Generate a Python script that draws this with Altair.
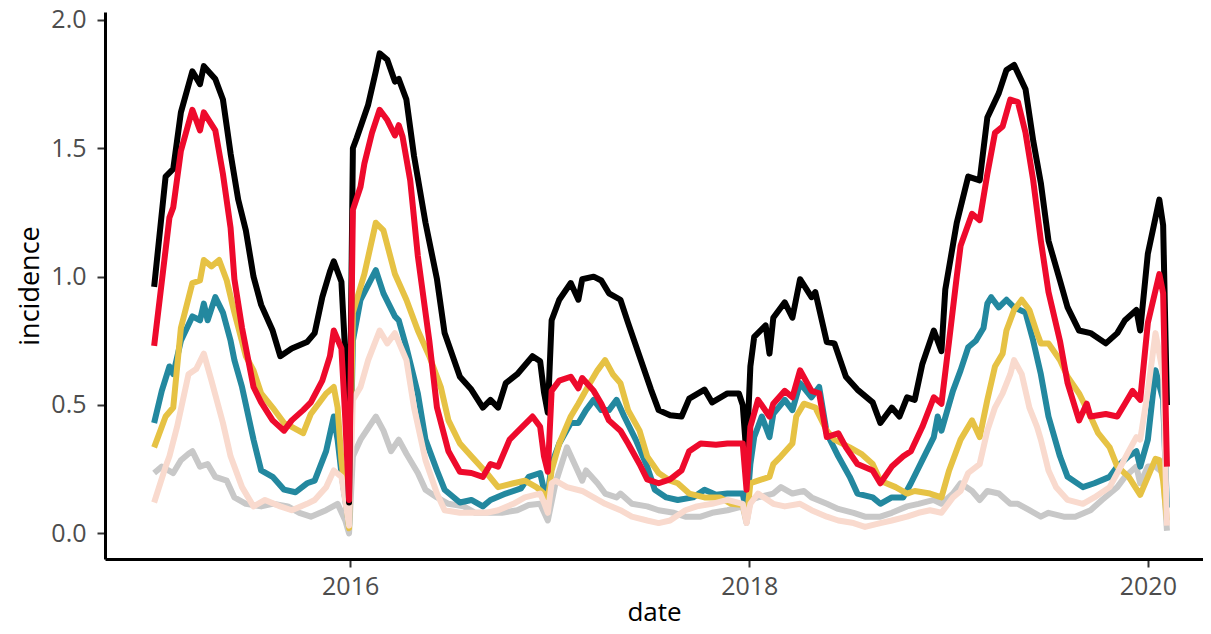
import altair as alt
import pandas as pd

START = "2015-01-07"  # week 0 of the weekly series

# (week index, incidence)
BLACK = [(0,0.96),(3,1.39),(5,1.42),(7,1.64),(10,1.80),(12,1.75),(13,1.82),(16,1.77),(18,1.69),(20,1.48),(22,1.30),(24,1.18),(26,1.00),(28,0.89),(31,0.79),(33,0.69),(36,0.72),(40,0.745),(42,0.78),(44,0.92),(46,1.02),(47,1.06),(49,0.98),(50,0.70),(51,0.12),(52,1.50),(53,1.54),(56,1.67),(58,1.80),(59,1.87),(61,1.845),(63,1.76),(64,1.77),(66,1.69),(68,1.47),(71,1.21),(74,0.99),(76,0.78),(80,0.61),(83,0.56),(86,0.49),(88,0.52),(90,0.49),(92,0.585),(95,0.62),(99,0.69),(101,0.67),(102,0.55),(103,0.47),(104,0.83),(106,0.91),(109,0.975),(111,0.91),(112,0.99),(115,1.0),(117,0.985),(119,0.935),(122,0.91),(124,0.82),(127,0.69),(130,0.56),(132,0.48),(135,0.46),(138,0.455),(140,0.525),(144,0.56),(146,0.51),(150,0.545),(153,0.545),(154,0.50),(155,0.30),(156,0.65),(157,0.765),(160,0.81),(161,0.70),(162,0.84),(165,0.90),(167,0.84),(169,0.99),(172,0.92),(173,0.94),(176,0.745),(178,0.74),(181,0.61),(184,0.56),(188,0.51),(190,0.43),(193,0.49),(195,0.455),(197,0.53),(199,0.52),(201,0.66),(204,0.79),(206,0.71),(207,0.95),(210,1.21),(213,1.39),(216,1.375),(218,1.62),(221,1.715),(223,1.805),(225,1.825),(228,1.73),(230,1.53),(232,1.365),(234,1.14),(237,0.985),(239,0.88),(242,0.79),(245,0.78),(249,0.74),(252,0.78),(254,0.83),(257,0.87),(258,0.79),(260,1.09),(263,1.30),(264,1.20),(265,0.50)]

RED = [(0,0.73),(4,1.23),(5,1.27),(7,1.49),(10,1.65),(12,1.57),(13,1.64),(16,1.57),(18,1.40),(20,1.19),(21,0.99),(23,0.80),(26,0.57),(28,0.51),(31,0.44),(34,0.40),(36,0.44),(39,0.48),(41,0.51),(44,0.595),(46,0.69),(47,0.79),(49,0.72),(50,0.45),(51,0.13),(52,1.26),(54,1.35),(55,1.44),(57,1.56),(59,1.65),(61,1.61),(63,1.55),(64,1.59),(65,1.545),(67,1.375),(69,1.08),(72,0.75),(74,0.49),(77,0.32),(80,0.24),(83,0.235),(86,0.22),(88,0.27),(90,0.26),(93,0.365),(95,0.395),(99,0.455),(101,0.415),(102,0.30),(103,0.24),(104,0.555),(106,0.595),(109,0.61),(111,0.565),(112,0.605),(115,0.555),(117,0.505),(119,0.44),(122,0.40),(124,0.35),(127,0.27),(129,0.21),(132,0.195),(135,0.21),(138,0.245),(140,0.32),(143,0.35),(147,0.345),(150,0.35),(154,0.35),(155,0.17),(156,0.415),(158,0.52),(161,0.455),(162,0.505),(165,0.555),(167,0.53),(169,0.635),(172,0.555),(174,0.545),(176,0.375),(179,0.39),(181,0.335),(184,0.27),(188,0.245),(190,0.195),(193,0.26),(196,0.30),(198,0.32),(201,0.415),(204,0.53),(206,0.505),(208,0.75),(210,1.0),(211,1.12),(214,1.245),(216,1.22),(218,1.40),(220,1.56),(222,1.585),(224,1.69),(226,1.68),(228,1.56),(230,1.375),(232,1.14),(234,0.94),(237,0.75),(239,0.585),(242,0.44),(244,0.505),(245,0.455),(249,0.465),(252,0.455),(254,0.505),(256,0.555),(258,0.52),(260,0.82),(263,1.01),(264,0.935),(265,0.26)]

YELLOW = [(0,0.335),(3,0.455),(5,0.49),(7,0.80),(10,0.975),(12,0.985),(13,1.065),(15,1.04),(17,1.065),(19,0.985),(21,0.86),(24,0.69),(26,0.635),(28,0.545),(31,0.49),(34,0.43),(36,0.415),(39,0.39),(41,0.465),(45,0.545),(47,0.57),(48,0.49),(49,0.285),(51,0.02),(52,0.86),(55,1.01),(58,1.21),(60,1.18),(63,1.01),(66,0.91),(69,0.79),(72,0.69),(75,0.57),(77,0.44),(80,0.35),(83,0.30),(87,0.235),(90,0.18),(94,0.195),(97,0.205),(100,0.18),(102,0.155),(103,0.13),(104,0.245),(106,0.35),(109,0.455),(111,0.505),(114,0.585),(116,0.635),(118,0.675),(120,0.62),(122,0.585),(124,0.48),(127,0.40),(129,0.30),(132,0.235),(135,0.205),(137,0.195),(140,0.155),(144,0.14),(148,0.14),(151,0.115),(154,0.11),(155,0.05),(156,0.195),(158,0.205),(161,0.22),(162,0.27),(164,0.30),(167,0.35),(168,0.455),(170,0.505),(173,0.49),(176,0.40),(178,0.365),(182,0.335),(185,0.31),(188,0.27),(190,0.205),(194,0.18),(197,0.155),(199,0.165),(203,0.155),(206,0.14),(208,0.245),(211,0.365),(214,0.44),(216,0.375),(218,0.52),(220,0.65),(222,0.70),(223,0.79),(225,0.87),(227,0.91),(229,0.87),(231,0.78),(232,0.74),(234,0.74),(237,0.675),(239,0.61),(242,0.545),(245,0.455),(247,0.39),(250,0.335),(252,0.26),(255,0.22),(258,0.15),(260,0.22),(262,0.29),(263,0.285),(264,0.205),(265,0.05)]

TEAL = [(0,0.43),(2,0.555),(4,0.65),(5,0.62),(7,0.75),(10,0.845),(12,0.83),(13,0.895),(14,0.83),(16,0.92),(18,0.86),(20,0.75),(21,0.675),(23,0.57),(26,0.365),(28,0.245),(31,0.22),(34,0.17),(37,0.16),(40,0.195),(42,0.205),(45,0.32),(47,0.455),(48,0.365),(49,0.235),(51,0.03),(52,0.75),(54,0.91),(58,1.025),(60,0.935),(63,0.845),(64,0.83),(66,0.725),(69,0.545),(71,0.365),(74,0.245),(76,0.17),(80,0.12),(83,0.13),(86,0.105),(88,0.13),(92,0.155),(96,0.175),(98,0.22),(101,0.235),(102,0.17),(103,0.15),(104,0.27),(106,0.35),(109,0.43),(111,0.43),(113,0.48),(115,0.52),(117,0.48),(119,0.48),(121,0.52),(123,0.455),(126,0.365),(129,0.26),(131,0.17),(134,0.14),(137,0.13),(141,0.14),(144,0.17),(147,0.15),(150,0.155),(154,0.155),(155,0.08),(156,0.27),(157,0.375),(159,0.455),(161,0.375),(162,0.465),(165,0.52),(167,0.48),(169,0.585),(172,0.53),(174,0.57),(176,0.39),(179,0.30),(182,0.22),(184,0.155),(188,0.14),(190,0.115),(193,0.14),(196,0.14),(198,0.195),(201,0.285),(204,0.375),(205,0.455),(206,0.40),(209,0.555),(211,0.635),(213,0.725),(215,0.75),(217,0.80),(218,0.895),(219,0.92),(221,0.88),(223,0.91),(225,0.88),(228,0.86),(230,0.75),(232,0.62),(234,0.455),(237,0.30),(239,0.22),(243,0.18),(246,0.195),(250,0.22),(252,0.26),(255,0.30),(257,0.32),(258,0.26),(260,0.365),(262,0.635),(264,0.52),(265,0.10)]

PEACH = [(0,0.12),(3,0.26),(4,0.30),(6,0.415),(9,0.62),(11,0.64),(13,0.70),(15,0.595),(18,0.43),(20,0.30),(23,0.18),(26,0.105),(29,0.13),(33,0.105),(36,0.09),(40,0.115),(42,0.13),(45,0.18),(47,0.245),(49,0.22),(51,0.03),(52,0.52),(54,0.57),(56,0.675),(59,0.79),(61,0.74),(63,0.78),(66,0.675),(68,0.49),(71,0.285),(74,0.155),(76,0.09),(80,0.08),(83,0.08),(87,0.08),(90,0.09),(94,0.115),(97,0.14),(101,0.155),(102,0.12),(103,0.08),(104,0.195),(105,0.205),(108,0.18),(112,0.165),(115,0.14),(118,0.115),(122,0.09),(125,0.065),(129,0.05),(132,0.04),(135,0.05),(139,0.09),(142,0.105),(146,0.115),(150,0.13),(154,0.115),(155,0.04),(156,0.115),(158,0.155),(162,0.115),(165,0.105),(169,0.115),(172,0.09),(176,0.065),(179,0.05),(183,0.04),(186,0.025),(190,0.04),(193,0.05),(197,0.065),(200,0.08),(203,0.09),(206,0.08),(209,0.14),(211,0.165),(213,0.235),(216,0.27),(218,0.40),(220,0.49),(222,0.545),(224,0.62),(225,0.675),(227,0.62),(229,0.49),(231,0.415),(232,0.365),(234,0.245),(236,0.18),(239,0.13),(243,0.115),(246,0.14),(250,0.18),(252,0.235),(255,0.32),(257,0.375),(258,0.365),(260,0.555),(262,0.78),(264,0.62),(265,0.03)]

GRAY = [(0,0.235),(2,0.26),(5,0.235),(7,0.285),(9,0.31),(10,0.32),(12,0.26),(14,0.27),(16,0.22),(19,0.205),(21,0.14),(24,0.115),(28,0.105),(31,0.115),(35,0.105),(38,0.08),(41,0.065),(45,0.09),(48,0.115),(50,0.05),(51,0.0),(52,0.30),(54,0.365),(58,0.455),(60,0.40),(62,0.32),(64,0.365),(66,0.31),(69,0.235),(71,0.17),(74,0.14),(77,0.115),(81,0.105),(84,0.08),(88,0.08),(91,0.08),(95,0.09),(98,0.11),(101,0.115),(103,0.05),(105,0.195),(108,0.335),(110,0.27),(112,0.205),(113,0.245),(116,0.195),(118,0.155),(121,0.14),(122,0.155),(125,0.115),(129,0.105),(132,0.09),(136,0.08),(139,0.065),(143,0.065),(146,0.08),(150,0.09),(154,0.105),(155,0.04),(156,0.13),(158,0.14),(162,0.155),(164,0.18),(167,0.155),(170,0.165),(172,0.14),(176,0.115),(179,0.095),(183,0.08),(186,0.065),(190,0.065),(193,0.08),(197,0.105),(200,0.115),(204,0.13),(206,0.115),(209,0.155),(211,0.195),(214,0.165),(216,0.13),(218,0.165),(221,0.155),(224,0.115),(226,0.115),(229,0.09),(232,0.065),(234,0.08),(238,0.065),(241,0.065),(245,0.09),(248,0.13),(252,0.18),(254,0.22),(257,0.26),(258,0.195),(260,0.26),(262,0.26),(264,0.235),(265,0.01)]

# drawing order (first = bottom) and colours
SERIES = [
    ("gray", GRAY, "#C8C8C8"),
    ("teal", TEAL, "#23889F"),
    ("yellow", YELLOW, "#E6C244"),
    ("peach", PEACH, "#F9DACE"),
    ("black", BLACK, "#000000"),
    ("red", RED, "#EE0A2C"),
]

Y_TICKS = [0.0, 0.5, 1.0, 1.5, 2.0]
X_TICK_YEARS = [2016, 2018, 2020]

start = pd.Timestamp(START)


def frame(points):
    return pd.DataFrame({
        "date": [(start + pd.Timedelta(weeks=w)).strftime("%Y-%m-%d") for w, _ in points],
        "incidence": [v for _, v in points],
    })


x_enc = alt.X(
    "date:T",
    title="date",
    scale=alt.Scale(
        type="utc",
        domain=[alt.DateTime(year=2014, month=10, date=9, utc=True),
                alt.DateTime(year=2020, month=4, date=11, utc=True)],
        nice=False,
    ),
    axis=alt.Axis(
        values=[alt.DateTime(year=y, month=1, date=1, utc=True) for y in X_TICK_YEARS],
        format="%Y",
        formatType="utc",
        labelPadding=7,
        titlePadding=0,
        titleFontSize=26,
    ),
)
y_enc = alt.Y(
    "incidence:Q",
    title="incidence",
    scale=alt.Scale(domain=[-0.1, 2.031], nice=False, zero=False),
    axis=alt.Axis(values=Y_TICKS, format=".1f", labelPadding=11, titlePadding=6,
                  titleFontSize=27),
)

layers = []
for name, pts, col in SERIES:
    layers.append(
        alt.Chart(frame(pts))
        .mark_line(color=col, strokeWidth=6, strokeJoin="round")
        .encode(x=x_enc, y=y_enc)
    )

chart = (
    alt.layer(*layers)
    .properties(
        width=1098,
        height=547,
        autosize=alt.AutoSizeParams(type="none"),
        padding={"left": 97, "top": 4, "right": 0, "bottom": 67},
        background="white",
    )
    .configure_view(stroke=None)
    .configure_axis(
        grid=False,
        domainColor="#000000",
        domainWidth=3,
        tickColor="#333333",
        tickWidth=2,
        tickSize=8,
        labelFont="Open Sans",
        labelFontSize=25,
        labelColor="#4D4D4D",
        titleFont="Open Sans",
        titleFontWeight="normal",
        titleColor="#000000",
    )
)

chart.save("out.html", embed_options={"renderer": "svg", "actions": False})
